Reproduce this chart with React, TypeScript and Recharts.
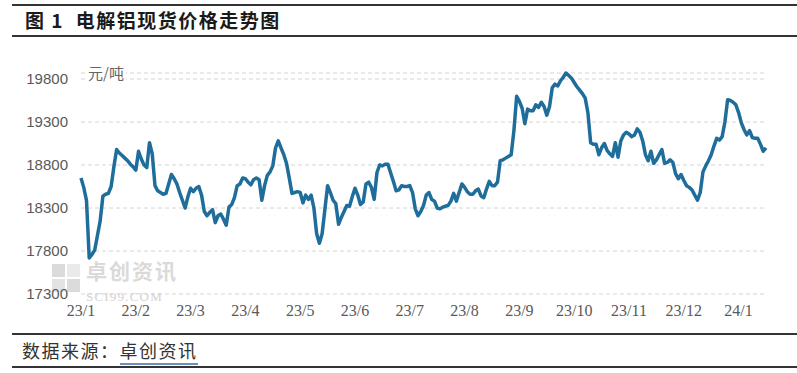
import { LineChart, Line, XAxis, YAxis, CartesianGrid } from "recharts";

// 电解铝现货价格 (元/吨), roughly one point per trading day, grouped by month
const monthLabels = ["23/1", "23/2", "23/3", "23/4", "23/5", "23/6", "23/7", "23/8", "23/9", "23/10", "23/11", "23/12", "24/1"];

const jan23 = [18650, 18540, 18390, 17720, 17760, 17810, 17980, 18150, 18440, 18460, 18470, 18550, 18780, 18980, 18940, 18910, 18880, 18850, 18810, 18780];
const feb23 = [18740, 18960, 18870, 18800, 18770, 19060, 18930, 18560, 18500, 18480, 18460, 18470, 18580, 18690, 18640, 18580, 18480, 18390, 18300, 18430];
const mar23 = [18530, 18490, 18530, 18550, 18450, 18260, 18210, 18250, 18280, 18130, 18210, 18230, 18170, 18100, 18310, 18340, 18420, 18560, 18580, 18650];
const apr23 = [18640, 18600, 18570, 18630, 18650, 18630, 18390, 18560, 18680, 18720, 18790, 19000, 19080, 19000, 18920, 18820, 18650, 18470, 18480, 18490];
const may23 = [18480, 18360, 18450, 18400, 18450, 18300, 18000, 17890, 18000, 18280, 18560, 18480, 18390, 18350, 18110, 18190, 18260, 18330, 18320, 18430];
const jun23 = [18530, 18450, 18340, 18370, 18580, 18600, 18540, 18400, 18710, 18800, 18790, 18810, 18810, 18710, 18610, 18500, 18510, 18560, 18550, 18550];
const jul23 = [18560, 18480, 18290, 18210, 18260, 18330, 18450, 18480, 18400, 18380, 18300, 18290, 18310, 18320, 18330, 18380, 18470, 18380, 18480, 18580];
const aug23 = [18540, 18490, 18460, 18460, 18500, 18520, 18440, 18420, 18520, 18610, 18560, 18560, 18600, 18850, 18860, 18880, 18900, 18920, 19200, 19600];
const sep23 = [19540, 19460, 19280, 19450, 19430, 19430, 19500, 19470, 19530, 19480, 19380, 19480, 19700, 19740, 19720, 19780, 19820, 19870, 19840, 19810];
const oct23 = [19760, 19710, 19670, 19630, 19580, 19410, 19060, 19040, 19040, 18920, 19000, 19050, 18970, 18930, 18900, 19060, 18890, 19080, 19150, 19180];
const nov23 = [19160, 19130, 19150, 19220, 19180, 19080, 18920, 18850, 18960, 18820, 18860, 18920, 18980, 18820, 18830, 18860, 18830, 18700, 18640, 18690];
const dec23 = [18620, 18560, 18540, 18510, 18450, 18390, 18480, 18720, 18790, 18850, 18920, 19020, 19110, 19090, 19130, 19300, 19560, 19550, 19530, 19500];
const jan24 = [19410, 19290, 19210, 19150, 19200, 19120, 19110, 19110, 19040, 18960, 19000];

const months = [jan23, feb23, mar23, apr23, may23, jun23, jul23, aug23, sep23, oct23, nov23, dec23, jan24];
const yTicks = [17300, 17800, 18300, 18800, 19300, 19800];

const rows = months.flat().map((price, i) => ({ i, price }));
const monthStarts = months.map((_, m) => months.slice(0, m).reduce((s, a) => s + a.length, 0));

const grey = "#595959";
const cjk = "'Noto Sans CJK SC', sans-serif";

export default function App() {
  return (
    <div style={{ position: "absolute", left: 0, top: 0, width: 797, height: 373, background: "#fff", overflow: "hidden" }}>
      {/* title block */}
      <div style={{ position: "absolute", left: 12, right: 0, top: 4, height: 2, background: "#333" }} />
      <div
        style={{
          position: "absolute",
          left: 25,
          top: 7,
          lineHeight: "26px",
          fontFamily: cjk,
          fontWeight: 700,
          fontSize: 19,
          letterSpacing: 1.5,
          color: "#1a1a1a",
          whiteSpace: "pre",
        }}
      >
        {"图 1  电解铝现货价格走势图"}
      </div>
      <div style={{ position: "absolute", left: 12, right: 0, top: 35, height: 2, background: "#333" }} />

      {/* watermark */}
      <div style={{ position: "absolute", left: 52, top: 264, width: 28, height: 28, display: "grid", gridTemplateColumns: "1fr 1fr", gap: 2, opacity: 0.35 }}>
        <div style={{ background: "#9a9a9a" }} />
        <div style={{ background: "#c4c4c4" }} />
        <div style={{ background: "#b0b0b0" }} />
        <div style={{ background: "#9a9a9a" }} />
      </div>
      <div style={{ position: "absolute", left: 86, top: 258, lineHeight: "24px", fontFamily: cjk, fontSize: 21, fontWeight: 700, color: "#dadada", letterSpacing: 2 }}>
        卓创资讯
      </div>
      <div style={{ position: "absolute", left: 86, top: 290, lineHeight: "13px", fontFamily: "'Liberation Serif', serif", fontSize: 13, color: "#d2d2d2", letterSpacing: 1.2 }}>
        SCI99.COM
      </div>

      <div style={{ position: "absolute", left: 0, top: 0 }}>
        <LineChart width={797} height={373} data={rows} margin={{ top: 73, right: 31, bottom: 49, left: 0 }}>
          <CartesianGrid vertical={false} stroke="#d4d4d4" strokeDasharray="4 3" />
          <XAxis
            dataKey="i"
            type="number"
            domain={[0, rows.length - 1]}
            ticks={monthStarts}
            tickFormatter={(v: number) => monthLabels[monthStarts.indexOf(v)]}
            axisLine={false}
            tickLine={false}
            height={30}
            tickMargin={5}
            interval={0}
            tick={{ fill: grey, fontSize: 16, fontFamily: "'Liberation Serif', serif" }}
          />
          <YAxis
            domain={[17300, 19800]}
            ticks={yTicks}
            width={81}
            axisLine={false}
            tickLine={false}
            tickMargin={7}
            interval={0}
            tick={{ fill: grey, fontSize: 15, fontFamily: "'Liberation Sans', Arial, sans-serif" }}
          />
          <Line
            type="linear"
            dataKey="price"
            stroke="#1f6d9b"
            strokeWidth={3.5}
            dot={false}
            strokeLinejoin="round"
            isAnimationActive={false}
          />
        </LineChart>
      </div>

      <div style={{ position: "absolute", left: 88, top: 63, lineHeight: "20px", fontFamily: cjk, fontSize: 15, color: "#666", background: "#fff", paddingRight: 2 }}>
        元/吨
      </div>

      {/* source footer */}
      <div style={{ position: "absolute", left: 12, right: 0, top: 333, height: 2, background: "#333" }} />
      <div style={{ position: "absolute", left: 22, top: 338, lineHeight: "24px", fontFamily: cjk, fontSize: 18, letterSpacing: 1.5, color: "#333" }}>
        数据来源：
        <span style={{ borderBottom: "2px solid #6a8fb8", paddingBottom: 0 }}>卓创资讯</span>
      </div>
      <div style={{ position: "absolute", left: 12, right: 0, top: 366, height: 2, background: "#333" }} />
    </div>
  );
}
